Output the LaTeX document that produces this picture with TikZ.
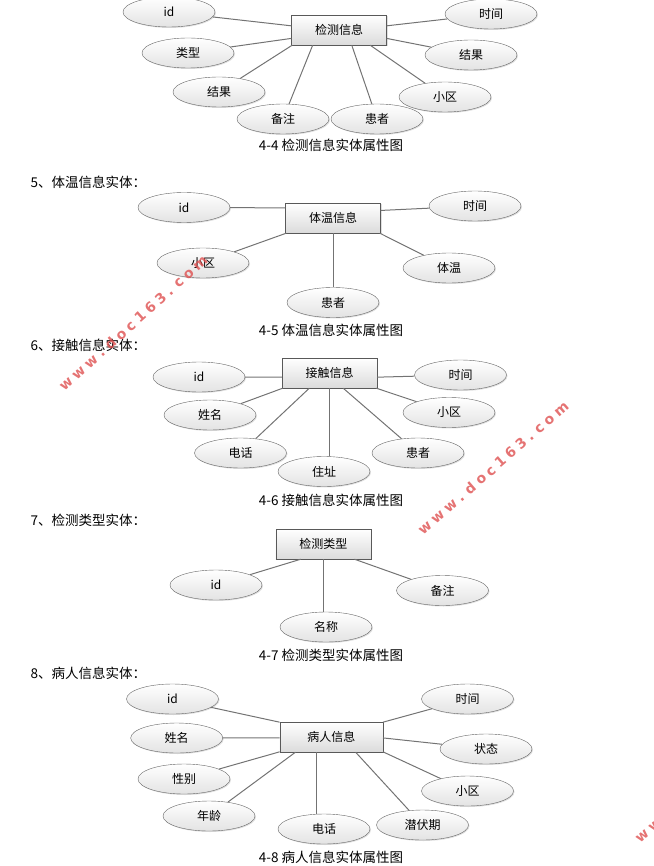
\documentclass[tikz,border=0pt]{standalone}
\usepackage{fontspec}
\setmainfont{Noto Sans CJK SC}
\newfontfamily\wmfont{DejaVu Sans}
\usetikzlibrary{shapes.geometric,shadows}
\definecolor{wmred}{RGB}{222,80,80}
\newcommand{\wmtext}{{\spaceskip=4pt\relax w w w . d o c 1 6 3 . c o m}}

\begin{document}
\begin{tikzpicture}[x=1pt,y=-1pt,
  ent/.style={rectangle,draw=black!65,minimum width=95pt,minimum height=30pt,inner sep=0pt,
    top color=white,bottom color=black!14,
    drop shadow={shadow xshift=1pt,shadow yshift=-1pt,opacity=0.25},
    font=\fontsize{12}{14}\selectfont},
  attr/.style={ellipse,draw=black!60,minimum width=92pt,minimum height=30pt,inner sep=0pt,
    top color=white,bottom color=black!11,
    drop shadow={shadow xshift=1pt,shadow yshift=-1pt,opacity=0.25},
    font=\fontsize{12}{14}\selectfont},
  lnk/.style={draw=black!55,line width=1pt},
  capt/.style={font=\fontsize{13.5}{16}\selectfont},
  hd/.style={anchor=west,font=\fontsize{13.5}{16}\selectfont},
  wm/.style={text=wmred,text opacity=0.8,font=\wmfont\bfseries\fontsize{14}{16}\selectfont}]
\useasboundingbox (0,0) rectangle (653,866);
\clip (0,0) rectangle (653,866);

\node[ent] (jcxx) at (339,30) {检测信息};
\node[attr] (jcid) at (169,12) {id};
\node[attr] (jclx) at (188,53) {类型};
\node[attr] (jcjg) at (219,92) {结果};
\node[attr] (jcbz) at (283,119) {备注};
\node[attr] (jchz) at (377,119) {患者};
\node[attr] (jcxq) at (445,97) {小区};
\node[attr] (jcjr) at (471,55) {结果};
\node[attr] (jcsj) at (491,14) {时间};
\draw[lnk] (jcxx.175) -- (jcid);
\draw[lnk] (jcxx.190) -- (jclx);
\draw[lnk] (jcxx.198) -- (jcjg);
\draw[lnk] (jcxx.210) -- (jcbz);
\draw[lnk] (jcxx.310) -- (jchz);
\draw[lnk] (jcxx.334) -- (jcxq);
\draw[lnk] (jcxx.350) -- (jcjr);
\draw[lnk] (jcxx.5) -- (jcsj);
\node[capt] (cap4) at (331,145) {4-4 检测信息实体属性图};

\node[hd] (hd5) at (27,182) {5、体温信息实体：};
\node[ent] (twxx) at (333,218) {体温信息};
\node[attr] (twid) at (184,207.5) {id};
\node[attr] (twsj) at (475,206) {时间};
\node[attr] (twxq) at (203,263) {小区};
\node[attr] (twhz) at (333,302.5) {患者};
\node[attr] (twtw) at (449,268) {体温};
\draw[lnk] (twxx.168) -- (twid);
\draw[lnk] (twxx.9) -- (twsj);
\draw[lnk] (twxx.198) -- (twxq);
\draw[lnk] (twxx.south) -- (twhz);
\draw[lnk] (twxx.342) -- (twtw);
\node[capt] (cap5) at (331,330) {4-5 体温信息实体属性图};

\node[hd] (hd6) at (27,345) {6、接触信息实体：};
\node[ent] (jzxx) at (329.5,373) {接触信息};
\node[attr] (jzid) at (199,377) {id};
\node[attr] (jzsj) at (460.5,375) {时间};
\node[attr] (jzxm) at (210,415) {姓名};
\node[attr] (jzdh) at (240.5,453) {电话};
\node[attr] (jzzz) at (324,471.5) {住址};
\node[attr] (jzhz) at (418,453) {患者};
\node[attr] (jzxq) at (449,412.5) {小区};
\draw[lnk] (jzxx.185) -- (jzid);
\draw[lnk] (jzxx.355) -- (jzsj);
\draw[lnk] (jzxx.198) -- (jzxm);
\draw[lnk] (jzxx.217) -- (jzdh);
\draw[lnk] (jzxx.south) -- (jzxx.south |- jzzz.north);
\draw[lnk] (jzxx.312) -- (jzhz);
\draw[lnk] (jzxx.342) -- (jzxq);
\node[capt] (cap6) at (331,500) {4-6 接触信息实体属性图};

\node[hd] (hd7) at (27,520) {7、检测类型实体：};
\node[ent] (lxxx) at (323.3,544) {检测类型};
\node[attr] (lxid) at (216,585) {id};
\node[attr] (lxmc) at (326,627) {名称};
\node[attr] (lxbz) at (442.5,590.5) {备注};
\draw[lnk] (lxxx.214) -- (lxid);
\draw[lnk] (lxxx.south) -- (lxxx.south |- lxmc.north);
\draw[lnk] (lxxx.334) -- (lxbz);
\node[capt] (cap7) at (331,655) {4-7 检测类型实体属性图};

\node[hd] (hd8) at (27,673) {8、病人信息实体：};
\node[ent,minimum width=103pt] (brxx) at (331.3,737) {病人信息};
\node[attr] (brid) at (172.5,699) {id};
\node[attr] (brsj) at (467.5,699) {时间};
\node[attr] (brxm) at (176.7,738) {姓名};
\node[attr] (brzt) at (486,749) {状态};
\node[attr] (brxb) at (184,779) {性别};
\node[attr] (brxq) at (467.5,791) {小区};
\node[attr] (brnl) at (209,816) {年龄};
\node[attr] (brdh) at (324,829) {电话};
\node[attr] (brqf) at (422.5,825) {潜伏期};
\draw[lnk] (brxx.164) -- (brid);
\draw[lnk] (brxx.16) -- (brsj);
\draw[lnk] (brxx.181) -- (brxm);
\draw[lnk] (brxx.359) -- (brzt);
\draw[lnk] (brxx.196) -- (brxb);
\draw[lnk] (brxx.203) -- (brnl);
\draw[lnk] (brxx.226) -- (brxx.226 |- brdh.north);
\draw[lnk] (brxx.328) -- (brqf);
\draw[lnk] (brxx.344) -- (brxq);
\node[capt] (cap8) at (331,857) {4-8 病人信息实体属性图};

\node[wm,rotate=42] (wm1) at (133,323) {\wmtext};
\node[wm,rotate=41] (wm2) at (493,468) {\wmtext};
\node[wm,rotate=41,anchor=west] (wm3) at (634,842) {\wmtext};
\end{tikzpicture}
\end{document}
